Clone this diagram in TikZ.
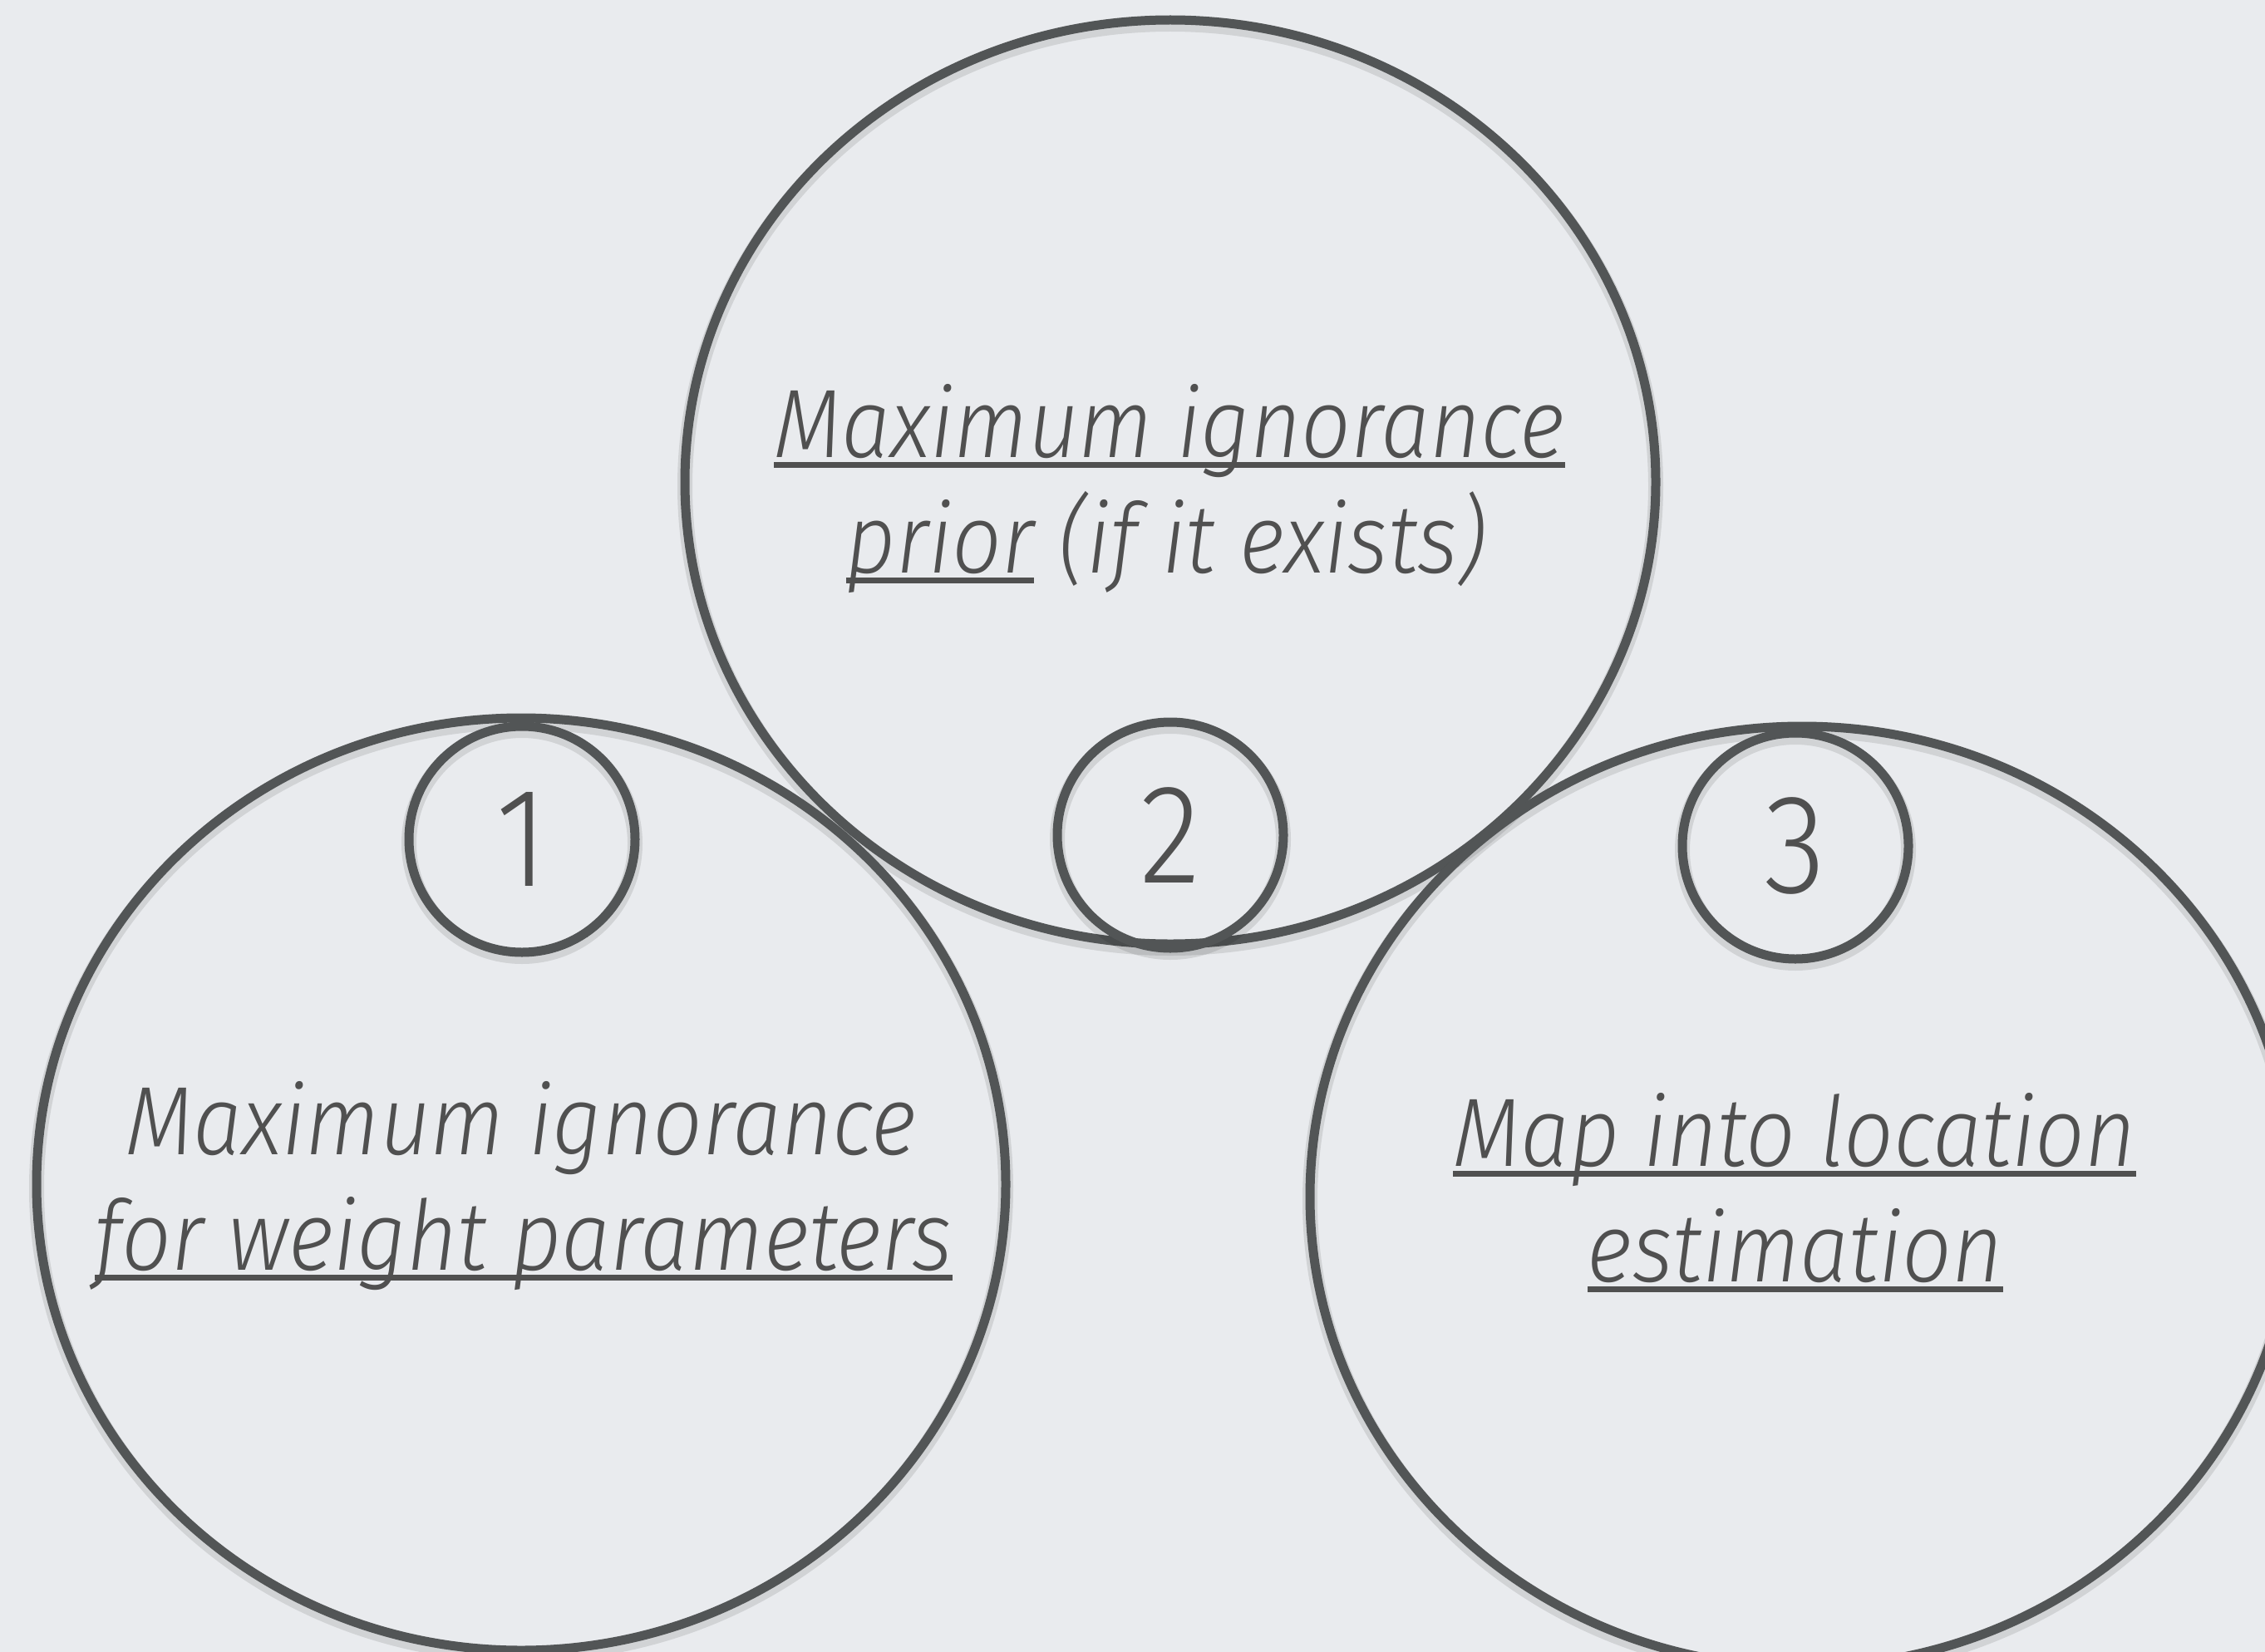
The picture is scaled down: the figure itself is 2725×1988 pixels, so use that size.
\documentclass[tikz,border=0pt]{standalone}
\usepackage{fontspec}
\setmainfont{Fira Sans}[UprightFont=* Light, ItalicFont=* Light Italic, FakeStretch=0.9]
\usetikzlibrary{shapes.geometric,decorations.pathmorphing}
\definecolor{bg}{RGB}{233,235,238}
\definecolor{ink}{RGB}{82,85,86}
\definecolor{txt}{RGB}{80,80,80}
\newsavebox\ulbox
\newcommand\ulx[1]{\sbox\ulbox{#1}\rlap{\rule[-13pt]{\wd\ulbox}{7pt}}\usebox\ulbox}
\pgfmathsetseed{7}
\tikzset{
  ring/.style={draw=ink, line width=11pt, inner sep=0pt, outer sep=0pt,
    preaction={draw=black, draw opacity=0.10, line width=18pt, transform canvas={yshift=-5pt}},
    postaction={draw=ink, line width=3.5pt, decorate,
      decoration={random steps, segment length=7pt, amplitude=3.2pt}}},
  bigring/.style={ring, ellipse},
  smallring/.style={ring, circle, minimum size=272pt, text=txt,
    font=\fontsize{170}{200}\selectfont},
  lbl/.style={anchor=base, inner sep=0pt, text=txt,
    font=\fontsize{117}{140}\selectfont\itshape},
}
\begin{document}
\begin{tikzpicture}[x=1pt, y=-1pt]
\fill[bg] (0,0) rectangle (2725,1988);
\useasboundingbox (0,0) rectangle (2725,1988);
% big circles
\node[bigring, minimum width=1168pt, minimum height=1112pt] (top) at (1408,580) {};
\node[bigring, minimum width=1166pt, minimum height=1122pt] (left) at (627,1425) {};
\node[bigring, minimum width=1184pt, minimum height=1132pt] (right) at (2168,1440) {};
% small numbered circles
\node[smallring] (n1) at (628,1010) {1};
\node[smallring] (n2) at (1408,1005) {2};
\node[smallring] (n3) at (2160,1018) {3};
% labels
\node[lbl] (top1) at (1407,550) {\ulx{Maximum ignorance}};
\node[lbl] (top2) at (1403,689) {\ulx{prior} (if it exists)};
\node[lbl] (left1) at (627,1389) {Maximum ignorance};
\node[lbl] (left2) at (630,1528) {\ulx{for weight parameters}};
\node[lbl] (right1) at (2159,1403) {\ulx{Map into location}};
\node[lbl] (right2) at (2160,1542) {\ulx{estimation}};
\end{tikzpicture}
\end{document}
